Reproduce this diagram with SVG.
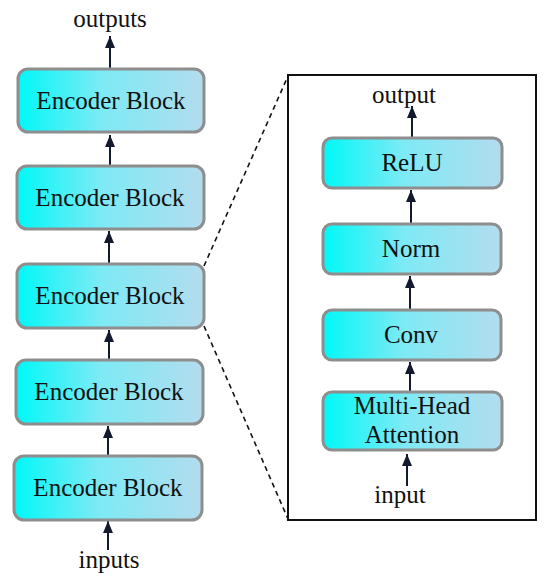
<svg xmlns="http://www.w3.org/2000/svg" width="550" height="583" viewBox="0 0 550 583">
<defs>
<linearGradient id="g" x1="0" y1="0" x2="1" y2="0">
<stop offset="0" stop-color="#00F8F8"/>
<stop offset="0.45" stop-color="#7DEAF5"/>
<stop offset="1" stop-color="#B3DCEE"/>
</linearGradient>
<marker id="ah" markerWidth="12" markerHeight="10" refX="12" refY="5" orient="auto" markerUnits="userSpaceOnUse" viewBox="0 0 12 10">
<path d="M12,5 L0,0 L0,10 Z" fill="#141A2E"/>
</marker>
<style>
.box{fill:url(#g);stroke:#8E8E8E;stroke-width:3}
.t{font-family:"Liberation Serif","DejaVu Serif",serif;font-size:25px;fill:#111;text-anchor:middle}
.ar{stroke:#141A2E;stroke-width:2;fill:none;marker-end:url(#ah)}
.dash{stroke:#111;stroke-width:1.6;stroke-dasharray:5,4;fill:none}
</style>
</defs>
<rect width="550" height="583" fill="#fff"/>
<g id="connectors">
<line class="ar" x1="110" y1="68" x2="110" y2="36"/>
<line class="ar" x1="110" y1="165" x2="110" y2="135"/>
<line class="ar" x1="109" y1="263" x2="109" y2="231"/>
<line class="ar" x1="109" y1="359" x2="109" y2="330"/>
<line class="ar" x1="108" y1="455" x2="108" y2="426"/>
<line class="ar" x1="108" y1="550" x2="108" y2="521"/>
<line class="ar" x1="412" y1="137" x2="412" y2="106"/>
<line class="ar" x1="411" y1="224" x2="411" y2="190"/>
<line class="ar" x1="410" y1="309" x2="410" y2="276"/>
<line class="ar" x1="410" y1="392" x2="410" y2="362"/>
<line class="ar" x1="407" y1="486" x2="407" y2="454"/>
<line class="dash" x1="204" y1="266" x2="288" y2="76"/>
<line class="dash" x1="204" y1="326" x2="288" y2="519"/>
</g>
<g id="panel">
<rect x="288" y="75" width="248" height="445" fill="none" stroke="#111" stroke-width="2"/>
</g>
<g id="enc1"><rect class="box" x="18" y="69" width="186" height="63" rx="10"/><text class="t" x="111" y="109">Encoder Block</text></g>
<g id="enc2"><rect class="box" x="17" y="166" width="187" height="63" rx="10"/><text class="t" x="110" y="206">Encoder Block</text></g>
<g id="enc3"><rect class="box" x="17" y="264" width="187" height="64" rx="10"/><text class="t" x="110" y="304">Encoder Block</text></g>
<g id="enc4"><rect class="box" x="16" y="360" width="187" height="64" rx="10"/><text class="t" x="109" y="400">Encoder Block</text></g>
<g id="enc5"><rect class="box" x="14" y="456" width="188" height="64" rx="10"/><text class="t" x="108" y="496">Encoder Block</text></g>
<g id="relu"><rect class="box" x="323" y="138" width="179" height="50" rx="9"/><text class="t" x="412" y="171">ReLU</text></g>
<g id="norm"><rect class="box" x="323" y="224" width="178" height="50" rx="9"/><text class="t" x="411" y="257">Norm</text></g>
<g id="conv"><rect class="box" x="323" y="310" width="178" height="50" rx="9"/><text class="t" x="411" y="343">Conv</text></g>
<g id="mha"><rect class="box" x="323" y="392" width="179" height="58" rx="9"/><text class="t" x="412" y="414">Multi-Head</text><text class="t" x="412" y="443">Attention</text></g>
<g id="labels">
<text class="t" x="110" y="27">outputs</text>
<text class="t" x="109" y="568">inputs</text>
<text class="t" x="404" y="103">output</text>
<text class="t" x="400" y="503">input</text>
</g>
</svg>
